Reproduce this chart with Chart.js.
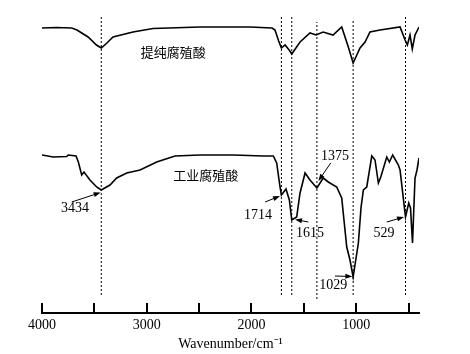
<!DOCTYPE html>
<html>
<head>
<meta charset="utf-8">
<script src="https://cdn.jsdelivr.net/npm/chart.js@4"></script>
<style>
  html, body { margin: 0; padding: 0; background: #fff; }
</style>
</head>
<body>
<canvas id="irChart" width="470" height="354"></canvas>
<script>
/* Data (transmittance in arbitrary units) */

const pureWavenumbers = [4000, 3860, 3716, 3666, 3560, 3480, 3434, 3380, 3322, 3131, 2940, 2491, 2014, 1803, 1775, 1740, 1714, 1679, 1640, 1615, 1536, 1441, 1383, 1316, 1221, 1138, 1075, 1029, 963, 915, 868, 772, 581, 533, 511, 486, 464, 438, 400];
const pureValues      = [285, 285.5, 285, 283, 276, 268, 265, 270, 276, 281, 284.5, 286, 286, 285, 283, 272, 265, 268, 263, 259, 271, 280, 278, 281, 278, 286, 266, 250, 265, 271, 281, 283, 286, 273, 268, 278, 264, 278, 286];

const industrialWavenumbers = [4000, 3892, 3764, 3749, 3675, 3653, 3621, 3599, 3542, 3478, 3434, 3351, 3287, 3191, 3064, 2905, 2730, 2491, 2173, 1887, 1791, 1759, 1727, 1714, 1670, 1638, 1615, 1568, 1536, 1488, 1441, 1375, 1314, 1266, 1186, 1138, 1090, 1059, 1029, 979, 953, 931, 899, 851, 820, 788, 765, 708, 683, 651, 597, 581, 529, 498, 481, 462, 438, 419, 400];
const industrialValues      = [158, 156, 156.5, 158, 157, 151, 138, 141, 133, 126, 123, 128, 135, 140, 143, 151, 157, 158, 158, 157, 157, 150, 126, 118, 124, 113, 93, 96, 120, 140, 133, 125, 135, 131, 126, 115, 66, 53, 36, 70, 106, 123, 126, 157, 153, 130, 136, 156, 151, 158, 148, 143, 96, 110, 105, 70, 135, 143, 155];

const peakLines = [3434, 1714, 1615, 1375, 1029, 529];
const peakLineBottom = [18, 18, 18, 14, 18, 18];
const peakLineTop = [296, 298, 298, 291, 294, 296];

const tickValues = [4000, 3500, 3000, 2500, 2000, 1500, 1000, 500];

// label text, text position, arrow start, arrow end (wavenumber, value)
const peakLabels = ["3434", "1714", "1615", "1375", "1029", "529"];
const labelPos   = [[3685, 105], [1937, 98], [1441, 80], [1202, 157], [1218, 28], [734, 80]];
const arrowFrom  = [[3716, 111], [1870, 111], [1457, 91], [1243, 150], [1202, 37], [708, 91]];
const arrowTo    = [[3440, 120.5], [1727, 117], [1584, 93.5], [1361, 132], [1036, 36.5], [543, 96]];

const sampleNames = ["提纯腐殖酸", "工业腐殖酸"];
const samplePos = [[2746, 261], [2437, 138]];

/* Charts */

const toPoints = (xs, ys) => xs.map((x, i) => ({ x: x, y: ys[i] }));

const lineDatasets = peakLines.map((w, i) => ({
    data: [{ x: w, y: peakLineBottom[i] }, { x: w, y: peakLineTop[i] }],
    borderColor: "#000",
    borderWidth: 1,
    borderDash: [2, 2],
    pointRadius: 0,
    tension: 0
}));

const annotations = {
    id: "annotations",
    afterDatasetsDraw(chart) {
        const ctx = chart.ctx;
        const xs = chart.scales.x;
        const ys = chart.scales.y;
        const area = chart.chartArea;

        ctx.save();

        // inward tick marks
        ctx.strokeStyle = "#000";
        ctx.lineWidth = 2;
        tickValues.forEach(v => {
            const px = Math.round(xs.getPixelForValue(v));
            ctx.beginPath();
            ctx.moveTo(px, area.bottom);
            ctx.lineTo(px, area.bottom - 10);
            ctx.stroke();
        });

        // peak labels with arrows
        ctx.fillStyle = "#000";
        ctx.font = "14px 'Liberation Serif', 'Times New Roman', serif";
        ctx.textAlign = "center";
        ctx.textBaseline = "middle";
        peakLabels.forEach((text, i) => {
            ctx.fillText(text, xs.getPixelForValue(labelPos[i][0]), ys.getPixelForValue(labelPos[i][1]));

            const x1 = xs.getPixelForValue(arrowFrom[i][0]);
            const y1 = ys.getPixelForValue(arrowFrom[i][1]);
            const x2 = xs.getPixelForValue(arrowTo[i][0]);
            const y2 = ys.getPixelForValue(arrowTo[i][1]);
            const ang = Math.atan2(y2 - y1, x2 - x1);

            ctx.lineWidth = 1;
            ctx.beginPath();
            ctx.moveTo(x1, y1);
            ctx.lineTo(x2 - 5 * Math.cos(ang), y2 - 5 * Math.sin(ang));
            ctx.stroke();

            ctx.beginPath();
            ctx.moveTo(x2, y2);
            ctx.lineTo(x2 - 7 * Math.cos(ang) + 2.5 * Math.sin(ang), y2 - 7 * Math.sin(ang) - 2.5 * Math.cos(ang));
            ctx.lineTo(x2 - 7 * Math.cos(ang) - 2.5 * Math.sin(ang), y2 - 7 * Math.sin(ang) + 2.5 * Math.cos(ang));
            ctx.closePath();
            ctx.fill();
        });

        // sample names
        ctx.font = "13px 'Noto Sans CJK SC', sans-serif";
        sampleNames.forEach((name, i) => {
            ctx.fillText(name, xs.getPixelForValue(samplePos[i][0]), ys.getPixelForValue(samplePos[i][1]));
        });

        ctx.restore();
    }
};

new Chart(document.querySelector("#irChart"), {
    type: "line",
    data: {
        datasets: [
            {
                data: toPoints(pureWavenumbers, pureValues),
                borderColor: "#000",
                borderWidth: 1.6,
                pointRadius: 0,
                tension: 0
            },
            {
                data: toPoints(industrialWavenumbers, industrialValues),
                borderColor: "#000",
                borderWidth: 1.6,
                pointRadius: 0,
                tension: 0
            },
            ...lineDatasets
        ]
    },
    options: {
        responsive: false,
        animation: false,
        layout: {
            padding: { left: 42, right: 51, top: 0, bottom: 0 }
        },
        plugins: {
            legend: { display: false },
            tooltip: { enabled: false }
        },
        scales: {
            x: {
                type: "linear",
                reverse: true,
                min: 400,
                max: 4000,
                afterBuildTicks: scale => {
                    scale.ticks = tickValues.map(v => ({ value: v }));
                },
                grid: { display: false, drawTicks: false },
                border: { display: true, color: "#000", width: 2 },
                ticks: {
                    padding: 5,
                    color: "#000",
                    maxRotation: 0,
                    autoSkip: false,
                    font: { family: "'Liberation Serif', serif", size: 14, lineHeight: 1 },
                    callback: value => (value % 1000 === 0 ? value : "")
                },
                title: {
                    display: true,
                    text: "Wavenumber/cm\u207B\u00B9",
                    color: "#000",
                    padding: { top: 0, bottom: 3 },
                    font: { family: "'Liberation Serif', serif", size: 14, lineHeight: 1 }
                }
            },
            y: {
                display: false,
                min: 0,
                max: 313
            }
        }
    },
    plugins: [annotations]
});
</script>
</body>
</html>
